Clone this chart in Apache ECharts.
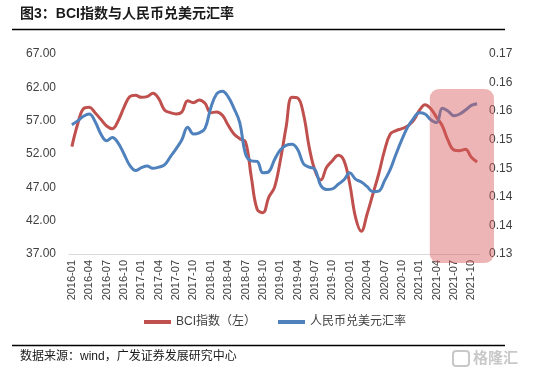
<!DOCTYPE html>
<html><head><meta charset="utf-8">
<script src="https://cdn.jsdelivr.net/npm/echarts@6/dist/echarts.min.js"></script>
<style>html,body{margin:0;padding:0;background:#fff}#c{width:550px;height:375px}</style>
</head><body><div id="c"></div>
<script>
const titleText = '图3：BCI指数与人民币兑美元汇率';
const sourceText = '数据来源：wind，广发证券发展研究中心';
const seriesNames = ['BCI指数（左）', '人民币兑美元汇率'];
const months = (function(){const a=[];for(let y=2016;y<=2021;y++){for(let m=1;m<=12;m++){if(y===2021&&m>11)break;a.push(y+'-'+(m<10?'0':'')+m);}}return a;})();
const bci = [53.1,56.5,58.8,59.0,58.2,57.2,56.2,55.8,57.0,59.0,60.6,60.8,
  60.5,60.6,61.1,60.3,58.6,58.2,58.0,58.3,60.0,59.7,60.1,59.6,
  58.2,58.3,57.8,56.3,55.0,54.3,53.8,48.5,43.7,43.2,45.5,47.0,
  51.0,56.0,60.5,60.4,58.0,53.0,49.5,48.1,50.0,51.0,51.8,51.0,
  47.5,42.5,40.4,43.0,46.0,49.0,52.5,55.0,55.5,55.8,56.2,57.0,
  58.5,59.4,58.8,57.5,56.2,54.0,52.6,52.5,52.7,51.5,50.8];
const cnyusd = [0.1526,0.1533,0.1541,0.1545,0.1532,0.1510,0.1498,0.1504,0.1494,0.1475,0.1455,0.1446,
  0.1451,0.1454,0.1450,0.1452,0.1456,0.1470,0.1484,0.1500,0.1522,0.1510,0.1512,0.1520,
  0.1556,0.1580,0.1585,0.1575,0.1555,0.1530,0.1475,0.1463,0.1462,0.1442,0.1444,0.1465,
  0.1482,0.1490,0.1492,0.1483,0.1458,0.1452,0.1448,0.1420,0.1413,0.1414,0.1422,0.1430,
  0.1442,0.1431,0.1426,0.1418,0.1409,0.1410,0.1428,0.1448,0.1475,0.1500,0.1522,0.1537,
  0.1547,0.1545,0.1535,0.1530,0.1555,0.1550,0.1542,0.1545,0.1552,0.1560,0.1563];
const leftTicks = ['37.00','42.00','47.00','52.00','57.00','62.00','67.00'];
const rightTicks = ['0.13','0.14','0.14','0.15','0.15','0.16','0.16','0.17'];

const FONT = 'Liberation Sans, Arial, Noto Sans CJK SC';
const chart = echarts.init(document.getElementById('c'));
const option = {
  animation: false,
  textStyle: {fontFamily: FONT},
  grid: {left: 69, right: 70, top: 54, bottom: 121},
  legend: {
    bottom: 42, left: 'center', itemWidth: 27, itemHeight: 4, itemGap: 22,
    icon: 'rect',
    textStyle: {fontSize: 12, color: '#404040', fontFamily: FONT},
    data: seriesNames
  },
  xAxis: {
    type: 'category', data: months, boundaryGap: true,
    axisLine: {lineStyle: {color: '#d9d9d9'}},
    axisTick: {interval: 2, length: 4, lineStyle: {color: '#d9d9d9'}},
    axisLabel: {interval: 2, rotate: 90, fontSize: 11, color: '#404040', margin: 6}
  },
  yAxis: [
    {type: 'value', min: 37, max: 67, interval: 5,
     splitLine: {show: false}, axisLine: {show: false}, axisTick: {show: false},
     axisLabel: {fontSize: 12, color: '#404040', margin: 13,
       formatter: v => leftTicks[Math.round((v - 37) / 5)]}},
    {type: 'value', min: 0.13, max: 0.165, interval: 0.005,
     splitLine: {show: false}, axisLine: {show: false}, axisTick: {show: false},
     axisLabel: {fontSize: 12, color: '#404040', margin: 9,
       formatter: v => rightTicks[Math.round((v - 0.13) / 0.005)]}}
  ],
  series: [
    {name: seriesNames[0], type: 'line', yAxisIndex: 0, data: bci, smooth: 0.4,
     showSymbol: false, lineStyle: {width: 3, color: '#C0504D'}, itemStyle: {color: '#C0504D'}},
    {name: seriesNames[1], type: 'line', yAxisIndex: 1, data: cnyusd, smooth: 0.4,
     showSymbol: false, lineStyle: {width: 3, color: '#4F81BD'}, itemStyle: {color: '#4F81BD'}}
  ]
};
chart.setOption(option);
const x0 = chart.convertToPixel({xAxisIndex: 0}, 62) - 1;
chart.setOption({
  graphic: [
    {type: 'text', left: 20, top: 7, style: {text: titleText, font: 'bold 14px ' + FONT, fill: '#1a1a1a'}},
    {type: 'line', shape: {x1: 12, y1: 29.5, x2: 505, y2: 29.5}, style: {stroke: '#000', lineWidth: 1.5}},
    {type: 'line', shape: {x1: 12, y1: 345.5, x2: 505, y2: 345.5}, style: {stroke: '#000', lineWidth: 1.5}},
    {type: 'text', left: 20, top: 351, style: {text: sourceText, font: '12px ' + FONT, fill: '#1a1a1a'}},
    {type: 'rect', shape: {x: 453, y: 351, width: 16, height: 15, r: 3}, style: {fill: 'none', stroke: '#c8c8c8', lineWidth: 2}},
    {type: 'text', left: 473, top: 350, style: {text: '格隆汇', font: 'bold 15px Noto Sans CJK SC', fill: '#c8c8c8'}},
    {type: 'rect', z: 100, shape: {x: x0, y: 89, width: 494 - x0, height: 174, r: 9},
     style: {fill: 'rgba(215,90,90,0.45)'}}
  ]
});
</script></body></html>
